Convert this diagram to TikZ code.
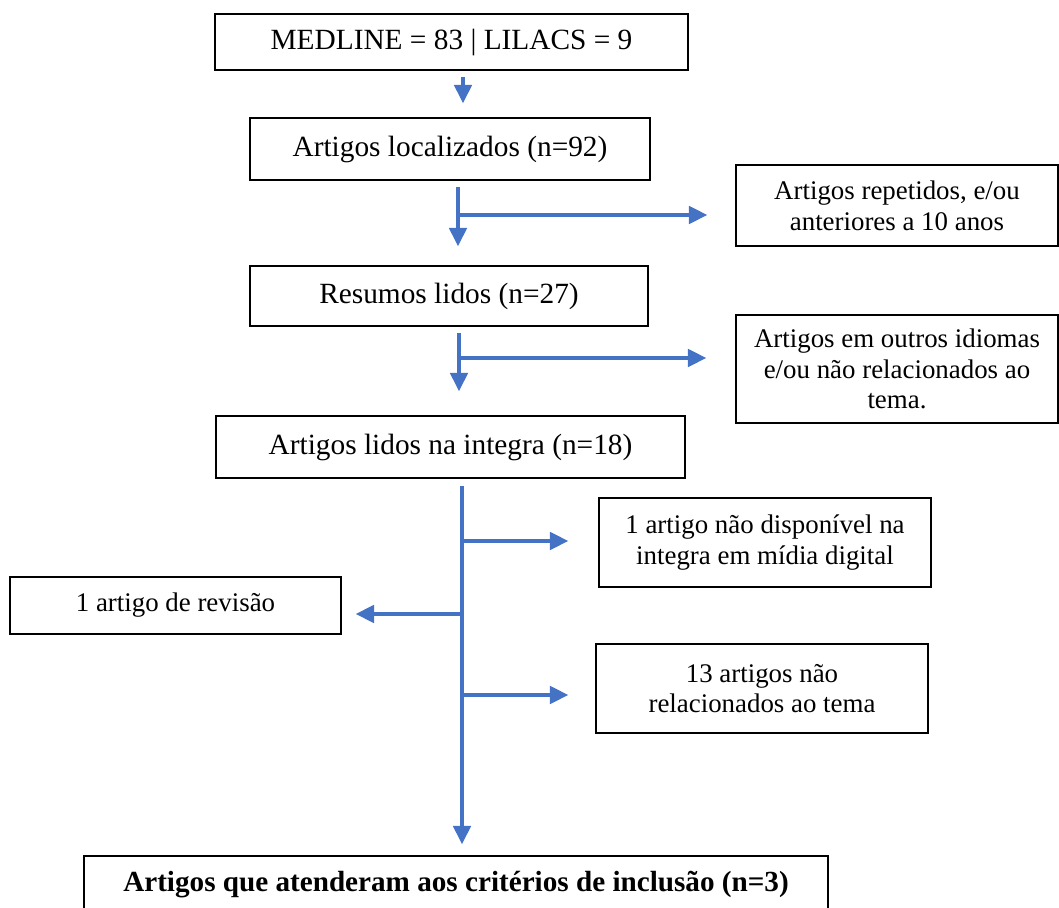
\documentclass[tikz,border=0pt]{standalone}
\usepackage{fontspec}
\setmainfont{Liberation Serif}
\usepackage{tikz}
\usetikzlibrary{arrows.meta, positioning, calc}
\definecolor{azul}{RGB}{68,114,196}

\begin{document}
\begin{tikzpicture}[
    x=0.02cm, y=-0.02cm,
    caixa/.style={draw, line width=0.8pt, inner sep=0pt, align=center, font=\fontsize{16.7}{19}\selectfont},
    lateral/.style={caixa, font=\fontsize{15.3}{17.5}\selectfont},
    seta/.style={draw=azul, line width=1.8pt, -{Triangle[length=10.5pt, width=10pt]}}
]
    \useasboundingbox (0,0) rectangle (1059,908);
    \clip (0,0) rectangle (1059,908);

    \node[caixa, minimum width=9.46cm, minimum height=1.12cm] (medline) at (451.5,42) {MEDLINE = 83 | LILACS = 9};
    \node[caixa, minimum width=8cm, minimum height=1.24cm] (localizados) at (450,149) {Artigos localizados (n=92)};
    \node[lateral, minimum width=6.44cm, minimum height=1.62cm] (repetidos) at (897,205.5) {Artigos repetidos, e/ou\\anteriores a 10 anos};
    \node[caixa, minimum width=7.96cm, minimum height=1.2cm] (resumos) at (449,296) {Resumos lidos (n=27)};
    \node[lateral, minimum width=6.44cm, minimum height=2.16cm] (idiomas) at (897,369) {Artigos em outros idiomas\\e/ou não relacionados ao\\tema.};
    \node[caixa, minimum width=9.38cm, minimum height=1.24cm] (integra) at (450.5,447) {Artigos lidos na integra (n=18)};
    \node[lateral, minimum width=6.64cm, minimum height=1.78cm] (naodisp) at (765,542.5) {1 artigo não disponível na\\integra em mídia digital};
    \node[lateral, minimum width=6.62cm, minimum height=1.14cm] (revisao) at (175.5,605.5) {1 artigo de revisão};
    \node[lateral, minimum width=6.64cm, minimum height=1.78cm] (naorel) at (762,688.5) {13 artigos não\\relacionados ao tema};
    \node[caixa, minimum width=14.88cm, minimum height=1.16cm, font=\fontsize{16.6}{19}\selectfont\bfseries] (inclusao) at (456,885) {Artigos que atenderam aos critérios de inclusão (n=3)};

    \coordinate (s1) at (463,77);
    \coordinate (s2) at (458,187);
    \coordinate (r2) at (458,215);
    \coordinate (s3) at (459,333);
    \coordinate (r3) at (459,358);
    \coordinate (s4) at (462,486);
    \coordinate (r4a) at (462,541);
    \coordinate (r4b) at (462,614);
    \coordinate (r4c) at (462,695);

    \draw[seta, shorten >=0.28cm] (s1) -- (s1 |- localizados.north);

    \draw[seta, shorten >=0.38cm] (s2) -- (s2 |- resumos.north);
    \draw[seta, shorten >=0.56cm] (r2) -- (r2 -| repetidos.west);

    \draw[seta, shorten >=0.48cm] (s3) -- (s3 |- integra.north);
    \draw[seta, shorten >=0.58cm] (r3) -- (r3 -| idiomas.west);

    \draw[seta, shorten >=0.22cm] (s4) -- (s4 |- inclusao.north);
    \draw[seta, shorten >=0.6cm] (r4a) -- (r4a -| naodisp.west);
    \draw[seta, shorten >=0.28cm] (r4b) -- (r4b -| revisao.east);
    \draw[seta, shorten >=0.54cm] (r4c) -- (r4c -| naorel.west);
\end{tikzpicture}
\end{document}
